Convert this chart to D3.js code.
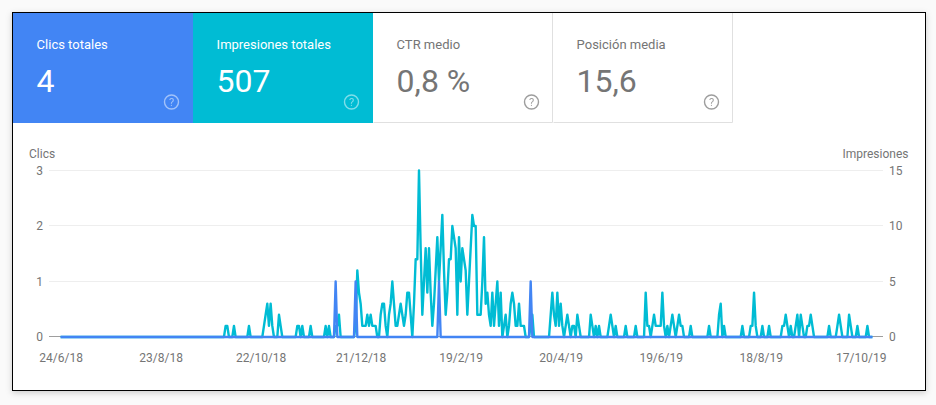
<!DOCTYPE html>
<html>
<head>
<meta charset="utf-8">
<script src="https://cdn.jsdelivr.net/npm/d3@7"></script>
<style>
	html, body { margin: 0; padding: 0; background: #fafafa; }
	svg { display: block; font-family: Roboto, sans-serif; }
	.card { fill: #fff; stroke: #000; stroke-width: 1; filter: drop-shadow(0 2px 3px rgba(0,0,0,0.18)); }
	.axis text { font-family: Roboto, sans-serif; font-size: 12px; fill: #757575; }
	.axis .domain { display: none; }
	.grid line { stroke: #eeeeee; }
	.grid .zero { stroke: #9e9e9e; }
	.title { font-size: 12px; fill: #757575; }
	.line { fill: none; stroke-width: 2.4; stroke-linejoin: round; }
</style>
</head>
<body>
<svg id="chart" width="936" height="405"></svg>
<script>
// daily impressions, starting on 24/6/18
var impressions = [
	0,0,0,0,0,0,0,0,0,0,0,0,0,0,0,0,0,0,0,0,
	0,0,0,0,0,0,0,0,0,0,0,0,0,0,0,0,0,0,0,0,
	0,0,0,0,0,0,0,0,0,0,0,0,0,0,0,0,0,0,0,0,
	0,0,0,0,0,0,0,0,0,0,0,0,0,0,0,0,0,0,0,0,
	0,0,0,0,0,0,0,0,0,0,0,0,0,0,0,0,0,0,0,1,
	1,0,0,0,1,0,0,0,0,0,0,0,0,1,0,0,0,0,0,0,
	0,0,1,2,3,1,3,1,0,0,0,2,1,0,0,0,0,0,0,0,
	0,0,1,1,0,1,0,0,0,0,1,0,0,0,0,0,0,0,0,1,
	0,1,0,0,0,1,1,2,0,0,0,0,0,0,0,0,0,1,6,4,
	3,1,1,1,2,1,2,1,1,1,0,0,2,3,3,1,0,2,3,5,
	3,1,1,2,3,2,1,2,4,4,2,0,3,7,7,15,8,2,5,8,
	4,8,4,1,3,6,9,5,8,11,6,2,4,7,7,10,9,8,2,9,
	5,8,7,6,2,5,8,11,10,10,2,2,2,5,9,3,4,2,1,4,
	1,3,5,1,4,0,1,2,0,1,3,4,3,1,1,3,1,1,1,0,
	0,0,1,2,0,0,0,0,0,0,0,0,0,0,2,4,2,1,4,1,
	3,1,0,1,2,1,0,1,1,0,2,1,0,0,0,0,0,0,2,1,
	0,1,0,1,0,0,0,0,0,1,2,1,0,1,0,0,0,0,0,1,
	0,0,0,0,0,1,0,0,0,0,0,4,1,1,0,1,2,1,1,1,
	1,4,1,0,1,0,1,2,1,0,1,2,1,1,0,0,0,0,1,0,
	0,0,0,0,0,0,0,0,0,1,0,0,0,0,0,2,3,0,1,0,
	0,0,0,0,0,0,0,0,0,1,0,0,0,0,1,1,4,1,0,0,
	0,1,0,0,0,1,0,0,0,0,0,0,0,1,1,2,1,0,1,0,
	0,1,2,0,2,1,0,0,1,1,2,1,0,0,0,0,0,0,0,0,
	0,1,0,0,0,0,1,2,1,0,0,0,0,2,1,0,0,0,1,0,
	0,0,0,0,1,0,0,0
];
// the only days with a click
var clickDates = ['2018-12-06', '2018-12-18', '2019-02-06', '2019-04-02'];
var xTickDates = ['2018-06-24', '2018-08-23', '2018-10-22', '2018-12-21', '2019-02-19', '2019-04-20', '2019-06-19', '2019-08-18', '2019-10-17'];
var clicksTicks = [0, 1, 2, 3];
var impressionsTicks = [0, 5, 10, 15];

var tiles = [
	{ label: 'Clics totales', value: '4', bg: '#4285f4', fg: '#fff' },
	{ label: 'Impresiones totales', value: '507', bg: '#00bcd4', fg: '#fff' },
	{ label: 'CTR medio', value: '0,8 %', bg: '#fff', fg: '#757575' },
	{ label: 'Posición media', value: '15,6', bg: '#fff', fg: '#757575' }
];

var svg = d3.select('#chart');
var parseDay = d3.utcParse('%Y-%m-%d');
var startDay = parseDay('2018-06-24');

var rows = impressions.map(function(d, i) {
	var day = d3.utcDay.offset(startDay, i);
	return { day: day, impressions: d, clicks: 0 };
});
clickDates.forEach(function(s) {
	var i = d3.utcDay.count(startDay, parseDay(s));
	rows[i].clicks = 1;
});

var x = d3.scaleUtc()
	.domain([startDay, rows[rows.length - 1].day])
	.range([60.6, 872.4]);
var yClicks = d3.scaleLinear().domain([0, 3]).range([337, 170.5]);
var yImpressions = d3.scaleLinear().domain([0, 15]).range([337, 170.5]);

svg.append('rect').classed('card', true)
	.attr('x', 12.5).attr('y', 12.5)
	.attr('width', 913).attr('height', 378);

// score tiles
var tileWidth = 180, tileHeight = 110;
var tile = svg.selectAll('.tile').data(tiles).enter().append('g')
	.classed('tile', true)
	.attr('transform', function(d, i) { return 'translate(' + (13 + i * tileWidth) + ',13)'; });

tile.append('rect')
	.attr('width', tileWidth)
	.attr('height', tileHeight)
	.attr('fill', function(d) { return d.bg; });

tile.filter(function(d) { return d.bg == '#fff'; }).append('path')
	.attr('d', 'M0.5,' + (tileHeight - 0.5) + 'H' + (tileWidth - 0.5) + 'V0')
	.attr('fill', 'none')
	.attr('stroke', '#e0e0e0');

tile.append('text')
	.attr('x', 23.6).attr('y', 36)
	.attr('font-size', 13)
	.attr('fill', function(d) { return d.fg; })
	.text(function(d) { return d.label; });

tile.append('text')
	.attr('x', 23.6).attr('y', 79)
	.attr('font-size', 32)
	.attr('fill', function(d) { return d.fg; })
	.text(function(d) { return d.value; });

// help icon
var help = tile.append('g')
	.attr('transform', 'translate(158.5,89)')
	.attr('opacity', function(d) { return d.bg == '#fff' ? 0.7 : 0.5; });
help.append('circle')
	.attr('r', 7)
	.attr('fill', 'none')
	.attr('stroke-width', 1.4)
	.attr('stroke', function(d) { return d.fg; });
help.append('text')
	.attr('y', 4)
	.attr('text-anchor', 'middle')
	.attr('font-size', 11)
	.attr('fill', function(d) { return d.fg; })
	.text('?');

// grid
var grid = svg.append('g').classed('grid', true);
grid.selectAll('line').data(clicksTicks).enter().append('line')
	.classed('zero', function(d) { return d == 0; })
	.attr('x1', 49).attr('x2', 883)
	.attr('y1', function(d) { return Math.round(yClicks(d)) - 0.5; })
	.attr('y2', function(d) { return Math.round(yClicks(d)) - 0.5; });

// axes
svg.append('g').classed('axis', true)
	.attr('transform', 'translate(49,0)')
	.call(d3.axisLeft(yClicks).tickValues(clicksTicks).tickFormat(d3.format('d')).tickSize(0).tickPadding(6))
	.selectAll('line').remove();

svg.append('g').classed('axis', true)
	.attr('transform', 'translate(883,0)')
	.call(d3.axisRight(yImpressions).tickValues(impressionsTicks).tickSize(0).tickPadding(6))
	.selectAll('line').remove();

svg.append('g').classed('axis', true)
	.attr('transform', 'translate(0,350)')
	.call(d3.axisBottom(x)
		.tickValues(xTickDates.map(parseDay))
		.tickFormat(d3.utcFormat('%-d/%-m/%y'))
		.tickSize(0)
		.tickPadding(3))
	.selectAll('line').remove();

svg.append('text').classed('title', true)
	.attr('x', 29).attr('y', 158)
	.text('Clics');
svg.append('text').classed('title', true)
	.attr('x', 908.5).attr('y', 158)
	.attr('text-anchor', 'end')
	.text('Impresiones');

// series
svg.append('path').datum(rows)
	.classed('line', true)
	.attr('stroke', '#00bcd4')
	.attr('d', d3.line()
		.x(function(d) { return x(d.day); })
		.y(function(d) { return yImpressions(d.impressions); }));

svg.append('path').datum(rows)
	.classed('line', true)
	.attr('stroke', '#4285f4')
	.attr('d', d3.line()
		.x(function(d) { return x(d.day); })
		.y(function(d) { return yClicks(d.clicks); }));
</script>
</body>
</html>
